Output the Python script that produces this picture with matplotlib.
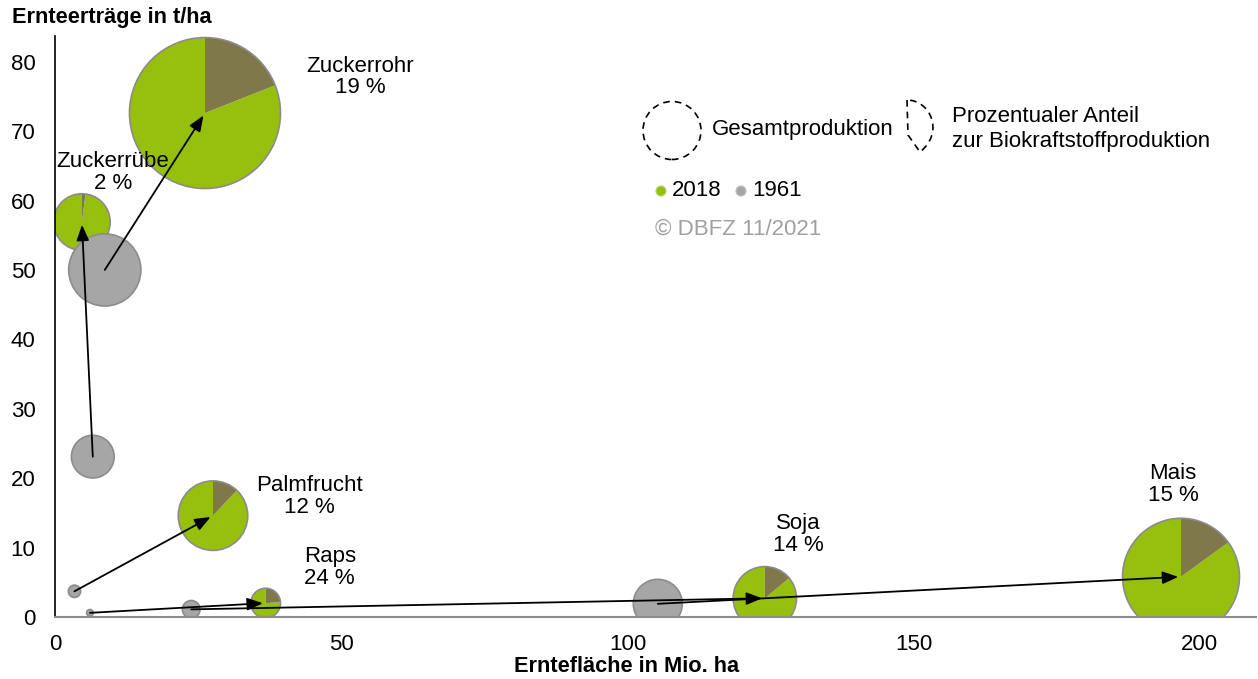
import matplotlib
matplotlib.use("Agg")
import matplotlib.pyplot as plt
import numpy as np
from matplotlib.patches import Wedge, Circle, PathPatch
from matplotlib.path import Path
from matplotlib.transforms import ScaledTranslation

plt.rcParams['font.family'] = ['Liberation Sans', 'DejaVu Sans']

# ---------------- data ----------------
crops = ["Zuckerrohr", "Zuckerrübe", "Palmfrucht", "Raps", "Soja", "Mais"]
area_2018 = [26.2, 4.7, 27.6, 36.8, 124.0, 196.7]      # Mio. ha
yield_2018 = [72.6, 56.9, 14.6, 2.0, 2.7, 5.8]         # t/ha
area_1961 = [8.7, 6.6, 3.4, 6.1, 23.8, 105.3]
yield_1961 = [50.0, 23.1, 3.7, 0.6, 1.1, 1.9]
biofuel_share = [19, 2, 12, 24, 14, 15]                # % of production
x_ticks = [0, 50, 100, 150, 200]
y_ticks = [0, 10, 20, 30, 40, 50, 60, 70, 80]

# ---------------- layout / style ----------------
W, H = 1258, 679
label_pos = [(53.3, 77.8), (10.1, 64.0), (44.5, 17.4), (48.0, 7.1), (129.8, 11.9), (195.3, 19.1)]
GREEN = '#97BF0D'
BROWN = '#7F784A'
GREY = '#A6A6A6'
EDGE = '#8C8C8C'
BUBBLE_SCALE = 0.01731   # inches of radius per sqrt(Mt)
FS = 16

fig = plt.figure(figsize=(W / 100, H / 100), dpi=100)
ax = fig.add_axes([55 / W, (H - 617) / H, 1201 / W, 581 / H])


def bubble_transform(x, y):
    return fig.dpi_scale_trans + ScaledTranslation(x, y, ax.transData)


# 2018 pies
for a, y, s in zip(area_2018, yield_2018, biofuel_share):
    r = BUBBLE_SCALE * np.sqrt(a * y)
    tr = bubble_transform(a, y)
    ang = s / 100 * 360
    ax.add_patch(Wedge((0, 0), r, 90, 450 - ang, facecolor=GREEN, edgecolor='none',
                       transform=tr, zorder=2))
    ax.add_patch(Wedge((0, 0), r, 90 - ang, 90, facecolor=BROWN, edgecolor='none',
                       transform=tr, zorder=2))
    ax.add_patch(Circle((0, 0), r, fill=False, edgecolor=EDGE, lw=1.2,
                        transform=tr, zorder=2.1))

# 1961 bubbles
for a, y in zip(area_1961, yield_1961):
    r = BUBBLE_SCALE * np.sqrt(a * y)
    tr = bubble_transform(a, y)
    ax.add_patch(Circle((0, 0), r, facecolor=GREY, edgecolor=EDGE, lw=1.2,
                        transform=tr, zorder=3))

# arrows 1961 -> 2018
for a0, y0, a1, y1 in zip(area_1961, yield_1961, area_2018, yield_2018):
    ax.annotate('', xy=(a1, y1), xytext=(a0, y0),
                arrowprops=dict(arrowstyle='-|>,head_length=0.45,head_width=0.18',
                                mutation_scale=21, lw=1.3, color='black',
                                shrinkA=0, shrinkB=2),
                zorder=5)

# labels
for name, s, (lx, ly) in zip(crops, biofuel_share, label_pos):
    ax.text(lx, ly, f"{name}\n{s} %", ha='center', va='center', fontsize=FS,
            linespacing=1.05, zorder=6)

ax.set_xlim(0, 209.8)
ax.set_ylim(0, 83.7)
ax.set_xticks(x_ticks)
ax.set_yticks(y_ticks)
ax.tick_params(axis='both', length=0, labelsize=FS)
ax.tick_params(axis='y', pad=14)
ax.tick_params(axis='x', pad=12)
for sp in ['top', 'right']:
    ax.spines[sp].set_visible(False)
ax.spines['left'].set_color('black')
ax.spines['left'].set_linewidth(1.2)
ax.spines['bottom'].set_color(EDGE)
ax.spines['bottom'].set_linewidth(1.5)
for sp in ax.spines.values():
    sp.set_zorder(7)

# axis titles
fig.text(12 / W, 1 - 18 / H, 'Ernteerträge in t/ha', fontsize=15.7, fontweight='bold',
         ha='left', va='center')
fig.text(627 / W, 1 - 667 / H, 'Erntefläche in Mio. ha', fontsize=15.7, fontweight='bold',
         ha='center', va='center')


# legend drawn in pixel coordinates (converted to inches)
def I(xp, yp):
    return (xp / 100, (H - yp) / 100)


dash = (0, (4, 3))
fig.add_artist(Circle(I(672, 130.5), 0.29, fill=False, edgecolor='black', lw=1.2,
                      linestyle=dash, transform=fig.dpi_scale_trans))
fig.text(712 / W, 1 - 129 / H, 'Gesamtproduktion', fontsize=FS, ha='left', va='center')

verts = [I(907, 100), I(908, 135), I(920, 152), I(945, 132), I(930, 100), I(907, 100)]
codes = [Path.MOVETO, Path.LINETO, Path.LINETO, Path.CURVE4, Path.CURVE4, Path.CURVE4]
fig.add_artist(PathPatch(Path(verts, codes), fill=False, edgecolor='black', lw=1.2,
                         linestyle=dash, transform=fig.dpi_scale_trans))
fig.text(952 / W, 1 - 117 / H, 'Prozentualer Anteil', fontsize=FS, ha='left', va='center')
fig.text(952 / W, 1 - 141 / H, 'zur Biokraftstoffproduktion', fontsize=FS, ha='left', va='center')

fig.add_artist(Circle(I(661, 191), 0.05, facecolor=GREEN, edgecolor='#B8D46A', lw=0.8,
                      transform=fig.dpi_scale_trans))
fig.text(672 / W, 1 - 191 / H, '2018', fontsize=FS, ha='left', va='center')
fig.add_artist(Circle(I(741, 191), 0.05, facecolor=GREY, edgecolor='#C0C0C0', lw=0.8,
                      transform=fig.dpi_scale_trans))
fig.text(752 / W, 1 - 191 / H, '1961', fontsize=FS, ha='left', va='center')
fig.text(655 / W, 1 - 229 / H, '© DBFZ 11/2021', fontsize=FS, color='#A0A0A0',
         ha='left', va='center')

fig.savefig('out.png', dpi=100)
